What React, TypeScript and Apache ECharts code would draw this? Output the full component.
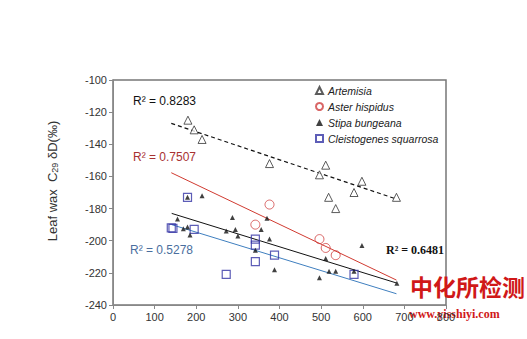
import React, { useEffect, useRef } from "react";
import * as echarts from "echarts";

const artemisia: [number, number][] = [
  [180, -125], [195, -131], [214, -137], [376, -152], [496, -159], [511, -153],
  [518, -173], [535, -180], [579, -170], [598, -163], [681, -173],
];
const asterHispidus: [number, number][] = [
  [376, -177.5], [342, -190], [496, -199], [511, -204.5], [535, -209],
];
const stipaBungeana: [number, number][] = [
  [179, -173], [214, -172], [155, -186.5], [169, -192.5], [179, -191.5], [185, -196.5],
  [287, -185.5], [272, -194], [294, -193], [300, -197], [370, -186], [356, -193],
  [376, -199], [342, -206], [388, -218], [496, -223], [511, -211], [519, -219],
  [535, -219], [598, -203], [579, -219], [682, -226.5],
];
const cleistogenes: [number, number][] = [
  [179, -173], [140, -192], [144, -192.3], [195, -193], [272, -221], [342, -199],
  [342, -202.7], [342, -213], [388, -209], [579, -221],
];
const fitArtemisia: [number, number][] = [[140, -127], [680, -174]];
const fitAster: [number, number][] = [[140, -157.7], [681, -224.5]];
const fitStipa: [number, number][] = [[141, -183], [681, -226.3]];
const fitCleisto: [number, number][] = [[141, -190], [681, -233]];
const xTicks = { min: 0, max: 800, interval: 100 };
const yTicks = { min: -240, max: -100, interval: 20 };

export default function App() {
  const ref = useRef<HTMLDivElement>(null);
  useEffect(() => {
    if (!ref.current) return;
    const chart = echarts.init(ref.current, undefined, { renderer: "svg" });
    const font = "'Liberation Sans', Arial, sans-serif";
    chart.setOption({
      animation: false,
      backgroundColor: "#ffffff",
      grid: {
        left: 113, right: 81, top: 80, bottom: 34, show: true,
        borderColor: "#777777", borderWidth: 1.5, backgroundColor: "transparent",
      },
      xAxis: {
        type: "value", ...xTicks,
        axisLine: { show: true, lineStyle: { color: "#888888", width: 1 } },
        axisTick: { show: true, length: 4, lineStyle: { color: "#888888" } },
        axisLabel: { color: "#333333", fontSize: 11, fontFamily: font, margin: 6 },
        splitLine: { show: false },
      },
      yAxis: {
        type: "value", ...yTicks,
        axisLine: { show: true, lineStyle: { color: "#888888", width: 1 } },
        axisTick: { show: true, length: 4, lineStyle: { color: "#888888" } },
        axisLabel: { color: "#333333", fontSize: 11, fontFamily: font, margin: 6 },
        splitLine: { show: false },
      },
      legend: {
        orient: "vertical", left: 310, top: 79, itemWidth: 7, itemHeight: 7, itemGap: 3,
        textStyle: { fontSize: 10.5, fontStyle: "italic", fontFamily: font, color: "#222", lineHeight: 13 },
        data: ["Artemisia", "Aster hispidus", "Stipa bungeana", "Cleistogenes squarrosa"],
      },
      series: [
        { type: "line", data: fitArtemisia, symbol: "none", lineStyle: { color: "#111", width: 1.2, type: [4, 3] }, z: 1, silent: true },
        { type: "line", data: fitAster, symbol: "none", lineStyle: { color: "#d03a30", width: 1 }, z: 1, silent: true },
        { type: "line", data: fitStipa, symbol: "none", lineStyle: { color: "#111", width: 1 }, z: 1, silent: true },
        { type: "line", data: fitCleisto, symbol: "none", lineStyle: { color: "#3f7fbf", width: 1 }, z: 1, silent: true },
        {
          name: "Artemisia", type: "scatter", data: artemisia, symbol: "triangle", symbolSize: 8,
          itemStyle: { color: "#ffffff", borderColor: "#333333", borderWidth: 1 }, z: 3,
        },
        {
          name: "Aster hispidus", type: "scatter", data: asterHispidus, symbol: "circle", symbolSize: 9,
          itemStyle: { color: "rgba(255,255,255,0)", borderColor: "#d04040", borderWidth: 1 }, z: 3,
        },
        {
          name: "Cleistogenes squarrosa", type: "scatter", data: cleistogenes, symbol: "rect", symbolSize: 8,
          itemStyle: { color: "rgba(255,255,255,0)", borderColor: "#3535a5", borderWidth: 1.2 }, z: 3,
        },
        {
          name: "Stipa bungeana", type: "scatter", data: stipaBungeana, symbol: "triangle", symbolSize: 5,
          itemStyle: { color: "#111111" }, z: 4,
        },
      ],
      graphic: [
        {
          type: "text", x: 52, y: 181, rotation: Math.PI / 2,
          style: {
            text: "Leaf wax  C{sub|29} δD(‰)", align: "center", verticalAlign: "middle",
            font: `13px ${font}`, fill: "#333",
            rich: { sub: { fontSize: 9, fontFamily: font, fill: "#333", padding: [5, 0, 0, 0] } },
          },
        },
        { type: "text", x: 133, y: 101, style: { text: "R² = 0.8283", font: `12px ${font}`, fill: "#111", verticalAlign: "middle" } },
        { type: "text", x: 133, y: 157, style: { text: "R² = 0.7507", font: `12px ${font}`, fill: "#a83232", verticalAlign: "middle" } },
        { type: "text", x: 130, y: 250, style: { text: "R² = 0.5278", font: `12px ${font}`, fill: "#4a6e9e", verticalAlign: "middle" } },
        { type: "text", x: 386, y: 250, style: { text: "R² = 0.6481", font: `bold 12px 'Liberation Serif', serif`, fill: "#111", verticalAlign: "middle" } },
        { type: "text", x: 410, y: 286, style: { text: "中化所检测", font: `bold 23px 'Noto Sans CJK SC', sans-serif`, fill: "#d01818", verticalAlign: "middle" } },
        { type: "text", x: 409, y: 314, style: { text: "www.yisshiyi.com", font: `bold 12px 'Liberation Serif', serif`, fill: "#d01818", verticalAlign: "middle" } },
      ],
    });
    return () => chart.dispose();
  }, []);
  return <div ref={ref} style={{ width: 527, height: 339, position: "absolute", left: 0, top: 0 }} />;
}
